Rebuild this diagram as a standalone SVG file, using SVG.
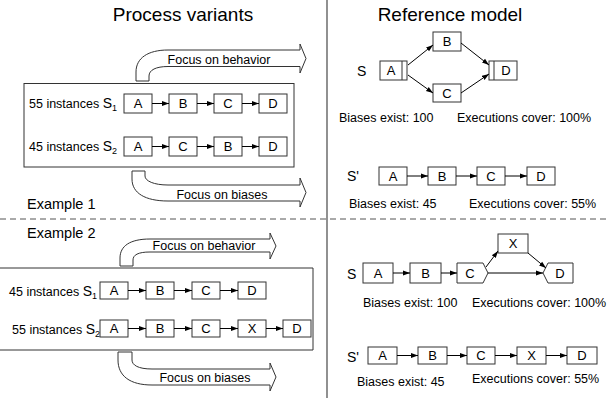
<svg xmlns="http://www.w3.org/2000/svg" width="607" height="398" viewBox="0 0 607 398">
<style>
text{font-family:"Liberation Sans",Arial,sans-serif;fill:#000}
.t{font-size:19px;text-anchor:middle}
.ex{font-size:14.5px}
.lb{font-size:12.5px}
.n rect,.n path{fill:#fff;stroke:#333;stroke-width:1}
.n text{font-size:13px;text-anchor:middle}
.s{font-size:14px}
.sub{font-size:9px}
.c line,.c path{stroke:#000;stroke-width:1;fill:none}
.fa{fill:#fff;stroke:#333;stroke-width:1}
.fa-t{font-size:12.5px;text-anchor:middle}
.frame{fill:none;stroke:#333;stroke-width:1}
</style>
<defs>
<marker id="ah" viewBox="0 0 10 10" refX="10" refY="5" markerWidth="7" markerHeight="7" orient="auto" markerUnits="userSpaceOnUse">
<path d="M0,1.5 L10,5 L0,8.5 z" fill="#000"/>
</marker>
</defs>

<!-- separators -->
<line x1="327" y1="0" x2="327" y2="398" stroke="#555" stroke-width="1.3"/>
<line x1="0" y1="219" x2="607" y2="219" stroke="#555" stroke-width="1" stroke-dasharray="6 4"/>

<text class="t" x="183" y="21">Process variants</text>
<text class="t" x="450" y="21">Reference model</text>
<text class="ex" x="27" y="209">Example 1</text>
<text class="ex" x="27" y="238">Example 2</text>

<!-- Example 1 left -->
<g id="ex1-frame"><rect class="frame" x="24" y="83.5" width="270" height="83.5"/></g>
<g id="ex1-behavior">
<path class="fa" d="M136,81 L136,72 C136,58 148,50 168,50 L300,50 L300,44 L306,58.5 L300,73 L300,66.5 L168,66.5 C156,66.5 149,70 149,76 L149,81 Z"/>
<text class="fa-t" x="219" y="64">Focus on behavior</text>
</g>
<g id="ex1-biases">
<path class="fa" d="M132,171 L132,179 C132,193 145,201 168,201 L300,201 L300,207 L306,192.5 L300,178 L300,185 L168,185 C154,185 145,181 145,176 L145,171 Z"/>
<text class="fa-t" x="222" y="199">Focus on biases</text>
</g>
<g id="ex1-s1-label"><text class="lb" x="29" y="108">55 instances <tspan class="s">S</tspan><tspan class="sub" dy="3">1</tspan></text></g>
<g id="ex1-s2-label"><text class="lb" x="29" y="151">45 instances <tspan class="s">S</tspan><tspan class="sub" dy="3">2</tspan></text></g>
<g id="ex1-r1-A" class="n"><rect x="124" y="94" width="28" height="19"/><text x="138" y="108">A</text></g>
<g id="ex1-r1-B" class="n"><rect x="169" y="94" width="28" height="19"/><text x="183" y="108">B</text></g>
<g id="ex1-r1-C" class="n"><rect x="214" y="94" width="28" height="19"/><text x="228" y="108">C</text></g>
<g id="ex1-r1-D" class="n"><rect x="259" y="94" width="28" height="19"/><text x="273" y="108">D</text></g>
<g id="ex1-r2-A" class="n"><rect x="124" y="137" width="28" height="19"/><text x="138" y="151">A</text></g>
<g id="ex1-r2-C" class="n"><rect x="169" y="137" width="28" height="19"/><text x="183" y="151">C</text></g>
<g id="ex1-r2-B" class="n"><rect x="214" y="137" width="28" height="19"/><text x="228" y="151">B</text></g>
<g id="ex1-r2-D" class="n"><rect x="259" y="137" width="28" height="19"/><text x="273" y="151">D</text></g>

<!-- Example 2 left -->
<g id="ex2-frame"><path class="frame" d="M0,268 L313,268 L313,350 L0,350"/></g>
<g id="ex2-behavior">
<path class="fa" d="M120,266 L120,258 C120,246 130,239 150,239 L270,239 L270,233 L276,246 L270,259 L270,252 L150,252 C138,252 133,255 133,260 L133,266 Z"/>
<text class="fa-t" x="204" y="250">Focus on behavior</text>
</g>
<g id="ex2-biases">
<path class="fa" d="M118,352 L118,360 C118,376 130,385 152,385 L270,385 L270,391 L276,377 L270,363 L270,369 L152,369 C138,369 132,365 132,360 L132,352 Z"/>
<text class="fa-t" x="205" y="382">Focus on biases</text>
</g>
<g id="ex2-s1-label"><text class="lb" x="9" y="296">45 instances <tspan class="s">S</tspan><tspan class="sub" dy="3">1</tspan></text></g>
<g id="ex2-s2-label"><text class="lb" x="12" y="334">55 instances <tspan class="s">S</tspan><tspan class="sub" dy="3">2</tspan></text></g>
<g id="ex2-r1-A" class="n"><rect x="100" y="282" width="28" height="17"/><text x="114" y="295">A</text></g>
<g id="ex2-r1-B" class="n"><rect x="146" y="282" width="28" height="17"/><text x="160" y="295">B</text></g>
<g id="ex2-r1-C" class="n"><rect x="192" y="282" width="28" height="17"/><text x="206" y="295">C</text></g>
<g id="ex2-r1-D" class="n"><rect x="238" y="282" width="28" height="17"/><text x="252" y="295">D</text></g>
<g id="ex2-r2-A" class="n"><rect x="100" y="320" width="28" height="17"/><text x="114" y="333">A</text></g>
<g id="ex2-r2-B" class="n"><rect x="146" y="320" width="28" height="17"/><text x="160" y="333">B</text></g>
<g id="ex2-r2-C" class="n"><rect x="192" y="320" width="28" height="17"/><text x="206" y="333">C</text></g>
<g id="ex2-r2-X" class="n"><rect x="238" y="320" width="28" height="17"/><text x="252" y="333">X</text></g>
<g id="ex2-r2-D" class="n"><rect x="283" y="320" width="28" height="17"/><text x="297" y="333">D</text></g>

<!-- Right top: S model -->
<text class="s" x="357" y="76">S</text>
<g id="rm1-A" class="n"><rect x="380" y="61" width="27" height="19"/><path d="M402,61 L402,80"/><text x="391" y="75">A</text></g>
<g id="rm1-B" class="n"><rect x="433" y="32" width="28" height="19"/><text x="447" y="46">B</text></g>
<g id="rm1-C" class="n"><rect x="433" y="84" width="28" height="18"/><text x="447" y="98">C</text></g>
<g id="rm1-D" class="n"><rect x="489" y="61" width="28" height="19"/><path d="M494,61 L494,80"/><text x="506" y="75">D</text></g>
<text class="lb" x="339" y="122">Biases exist: 100</text>
<text class="lb" x="457" y="122">Executions cover: 100%</text>

<text class="s" x="347" y="181">S'</text>
<g id="rm1p-A" class="n"><rect x="379" y="167" width="28" height="18"/><text x="393" y="181">A</text></g>
<g id="rm1p-B" class="n"><rect x="428" y="167" width="28" height="18"/><text x="442" y="181">B</text></g>
<g id="rm1p-C" class="n"><rect x="477" y="167" width="28" height="18"/><text x="491" y="181">C</text></g>
<g id="rm1p-D" class="n"><rect x="527" y="167" width="28" height="18"/><text x="541" y="181">D</text></g>
<text class="lb" x="349" y="208">Biases exist: 45</text>
<text class="lb" x="469" y="208">Executions cover: 55%</text>

<!-- Right bottom: Example 2 model -->
<text class="s" x="347" y="279">S</text>
<g id="rm2-A" class="n"><rect x="363" y="263" width="30" height="20"/><text x="378" y="278">A</text></g>
<g id="rm2-B" class="n"><rect x="410" y="263" width="31" height="20"/><text x="425.5" y="278">B</text></g>
<g id="rm2-C" class="n"><path d="M457,263 L483,263 L488,273 L483,283 L457,283 Z"/><text x="470" y="278">C</text></g>
<g id="rm2-X" class="n"><rect x="498" y="234" width="30" height="19"/><text x="513" y="248">X</text></g>
<g id="rm2-D" class="n"><path d="M548,263 L573,263 L573,283 L548,283 L543,273 Z"/><text x="560" y="278">D</text></g>
<text class="lb" x="363" y="307">Biases exist: 100</text>
<text class="lb" x="472" y="307">Executions cover: 100%</text>

<text class="s" x="347" y="362">S'</text>
<g id="rm2p-A" class="n"><rect x="368" y="347" width="29" height="17"/><text x="382.5" y="360">A</text></g>
<g id="rm2p-B" class="n"><rect x="418" y="347" width="29" height="17"/><text x="432.5" y="360">B</text></g>
<g id="rm2p-C" class="n"><rect x="467" y="347" width="28" height="17"/><text x="481" y="360">C</text></g>
<g id="rm2p-X" class="n"><rect x="517" y="347" width="29" height="17"/><text x="531.5" y="360">X</text></g>
<g id="rm2p-D" class="n"><rect x="567" y="347" width="30" height="17"/><text x="582" y="360">D</text></g>
<text class="lb" x="357" y="386">Biases exist: 45</text>
<text class="lb" x="472" y="383">Executions cover: 55%</text>

<!-- connectors -->
<g id="connectors" class="c">
<line x1="152" y1="103.5" x2="169" y2="103.5" marker-end="url(#ah)"/>
<line x1="197" y1="103.5" x2="214" y2="103.5" marker-end="url(#ah)"/>
<line x1="242" y1="103.5" x2="259" y2="103.5" marker-end="url(#ah)"/>
<line x1="152" y1="146.5" x2="169" y2="146.5" marker-end="url(#ah)"/>
<line x1="197" y1="146.5" x2="214" y2="146.5" marker-end="url(#ah)"/>
<line x1="242" y1="146.5" x2="259" y2="146.5" marker-end="url(#ah)"/>

<line x1="128" y1="290.5" x2="146" y2="290.5" marker-end="url(#ah)"/>
<line x1="174" y1="290.5" x2="192" y2="290.5" marker-end="url(#ah)"/>
<line x1="220" y1="290.5" x2="238" y2="290.5" marker-end="url(#ah)"/>
<line x1="128" y1="328.5" x2="146" y2="328.5" marker-end="url(#ah)"/>
<line x1="174" y1="328.5" x2="192" y2="328.5" marker-end="url(#ah)"/>
<line x1="220" y1="328.5" x2="238" y2="328.5" marker-end="url(#ah)"/>
<line x1="266" y1="328.5" x2="283" y2="328.5" marker-end="url(#ah)"/>

<line x1="408" y1="65" x2="433" y2="45" marker-end="url(#ah)"/>
<line x1="408" y1="75" x2="433" y2="93" marker-end="url(#ah)"/>
<line x1="461" y1="43" x2="489" y2="65" marker-end="url(#ah)"/>
<line x1="461" y1="93" x2="489" y2="74" marker-end="url(#ah)"/>

<line x1="407" y1="176" x2="428" y2="176" marker-end="url(#ah)"/>
<line x1="456" y1="176" x2="477" y2="176" marker-end="url(#ah)"/>
<line x1="505" y1="176" x2="527" y2="176" marker-end="url(#ah)"/>

<line x1="393" y1="273" x2="410" y2="273" marker-end="url(#ah)"/>
<line x1="441" y1="273" x2="457" y2="273" marker-end="url(#ah)"/>
<line x1="486" y1="267" x2="498" y2="251" marker-end="url(#ah)"/>
<line x1="528" y1="253" x2="546" y2="268" marker-end="url(#ah)"/>
<line x1="488" y1="273" x2="543" y2="273" marker-end="url(#ah)"/>

<line x1="397" y1="355.5" x2="418" y2="355.5" marker-end="url(#ah)"/>
<line x1="447" y1="355.5" x2="467" y2="355.5" marker-end="url(#ah)"/>
<line x1="495" y1="355.5" x2="517" y2="355.5" marker-end="url(#ah)"/>
<line x1="546" y1="355.5" x2="567" y2="355.5" marker-end="url(#ah)"/>
</g>
</svg>
